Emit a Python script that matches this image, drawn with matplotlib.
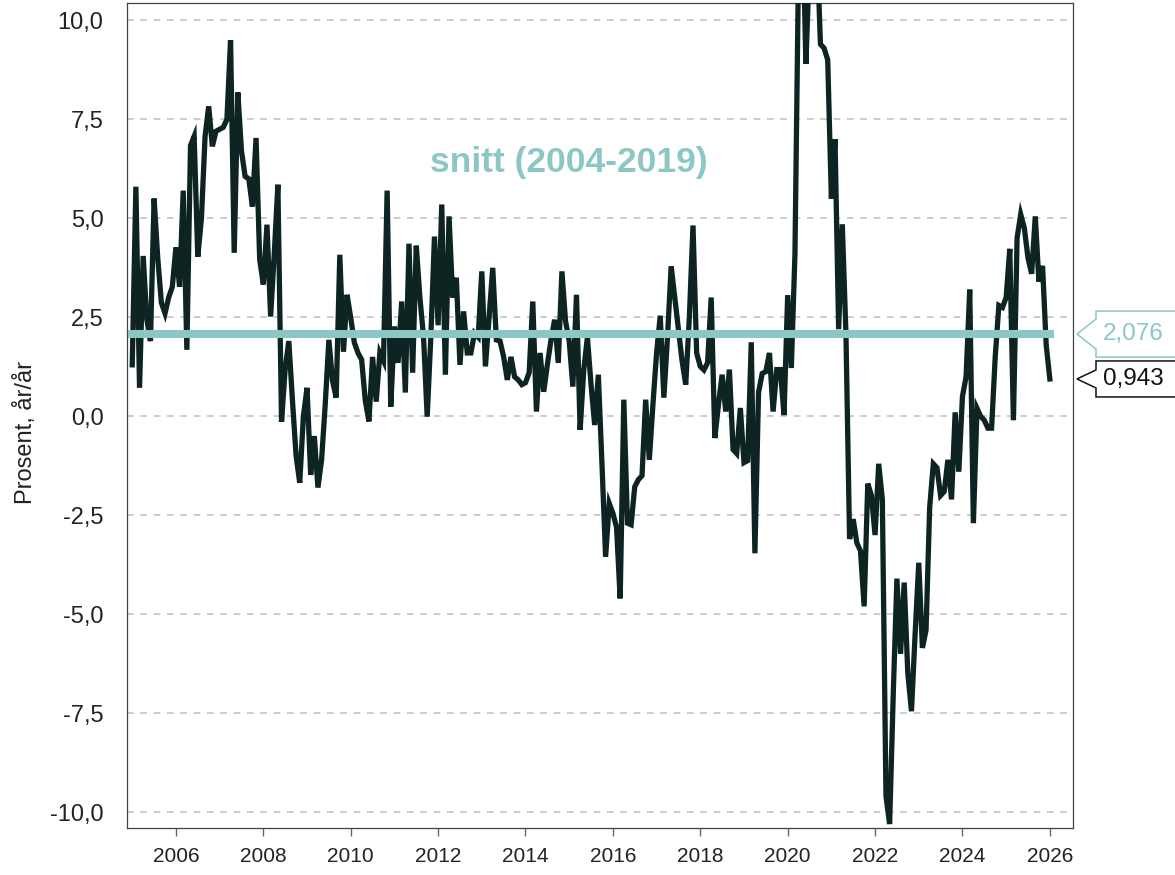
import numpy as np
import matplotlib.pyplot as plt
from matplotlib.patches import Polygon
from matplotlib.ticker import FuncFormatter

plt.rcParams['font.family'] = ['Liberation Sans', 'DejaVu Sans']

# monthly values, prosent år/år (Jan 2005 - Jan 2026)
y2005 = [1.3, 5.8, 0.72, 4.05, 2.45, 1.9, 5.5, 4.0, 2.87, 2.6, 3.0, 3.27]
y2006 = [4.27, 3.27, 5.7, 1.68, 6.84, 7.07, 4.03, 5.0, 7.07, 7.83, 6.82, 7.2]
y2007 = [7.25, 7.3, 7.5, 9.5, 4.13, 8.18, 6.7, 6.06, 6.0, 5.3, 7.03, 3.96]
y2008 = [3.33, 4.84, 2.52, 4.1, 5.85, -0.14, 1.2, 1.9, 0.4, -1.0, -1.68, 0.0]
y2009 = [0.72, -1.48, -0.5, -1.8, -1.1, 0.3, 1.93, 0.9, 0.47, 4.08, 1.63, 3.07]
y2010 = [2.49, 1.86, 1.6, 1.43, 0.4, -0.13, 1.5, 0.37, 1.6, 1.4, 5.7, 0.24]
y2011 = [2.27, 1.35, 2.9, 0.6, 4.36, 1.1, 4.31, 3.0, 2.0, -0.01, 2.0, 4.54]
y2012 = [2.3, 5.35, 1.05, 5.05, 3.0, 3.5, 1.3, 2.65, 1.6, 1.6, 2.1, 2.0]
y2013 = [3.66, 1.26, 2.5, 3.75, 1.93, 1.9, 1.5, 0.92, 1.5, 1.0, 0.92, 0.8]
y2014 = [0.85, 1.1, 2.9, 0.12, 1.6, 0.62, 1.3, 1.93, 2.44, 1.35, 3.66, 2.4]
y2015 = [1.9, 0.75, 3.07, -0.34, 1.17, 2.0, 0.8, -0.22, 1.05, -1.2, -3.55, -2.2]
y2016 = [-2.45, -2.8, -4.6, 0.42, -2.7, -2.74, -1.78, -1.6, -1.5, 0.42, -1.1, 0.3]
y2017 = [1.6, 2.54, 0.47, 2.0, 3.79, 3.0, 2.2, 1.4, 0.8, 2.5, 4.82, 1.6]
y2018 = [1.26, 1.17, 1.35, 3.0, -0.55, 0.3, 1.05, 0.12, 1.18, -0.84, -0.94, 0.21]
y2019 = [-1.17, -1.12, 1.87, -3.46, 0.6, 1.08, 1.13, 1.6, 0.12, 1.18, 1.18, 0.03]
y2020 = [3.06, 1.22, 4.1, 11.5, 13.0, 8.9, 11.5, 13.0, 12.0, 9.4, 9.3, 9.0]
y2021 = [5.5, 7.0, 2.2, 4.85, 2.1, -3.1, -2.6, -3.2, -3.4, -4.8, -1.7, -2.0]
y2022 = [-3.0, -1.2, -2.1, -9.6, -10.3, -7.0, -4.1, -6.0, -4.2, -6.5, -7.45, -5.5]
y2023 = [-3.7, -5.85, -5.4, -2.3, -1.2, -1.3, -2.0, -1.9, -1.1, -2.1, 0.1, -1.4]
y2024 = [0.5, 1.0, 3.2, -2.7, 0.2, 0.0, -0.1, -0.3, -0.3, 1.5, 2.8, 2.75]
y2025 = [3.0, 4.23, -0.1, 4.5, 5.1, 4.75, 4.0, 3.6, 5.05, 3.4, 3.8, 1.8]
y2026 = [0.943]

values = (y2005 + y2006 + y2007 + y2008 + y2009 + y2010 + y2011 + y2012 + y2013
          + y2014 + y2015 + y2016 + y2017 + y2018 + y2019 + y2020 + y2021
          + y2022 + y2023 + y2024 + y2025 + y2026)
years = 2005 + np.arange(len(values)) / 12

avg = 2.076
avg_label = "snitt (2004-2019)"
yticks = [-10, -7.5, -5, -2.5, 0, 2.5, 5, 7.5, 10]
xticks = list(range(2006, 2027, 2))

dark = '#0e2423'
teal = '#8cc7c6'

fig = plt.figure(figsize=(11.75, 8.75), dpi=100)
ax = fig.add_axes([127 / 1175, 47 / 875, 946 / 1175, 825 / 875])

ax.plot(years, values, color=dark, linewidth=3.8, solid_joinstyle='miter', zorder=3)
ax.plot([years[0], years[-1]], [avg, avg], color=teal, linewidth=5.8, zorder=4)

ax.text(2015.0, 6.42, avg_label, color=teal, fontsize=25.5, fontweight='bold',
        ha='center', va='center')

ax.set_xlim(2004.88, 2026.53)
ax.set_ylim(-10.4, 10.44)
ax.set_xticks(xticks)
ax.set_yticks(yticks)
ax.yaxis.set_major_formatter(FuncFormatter(lambda v, p: f"{v:.1f}".replace('.', ',')))
ax.yaxis.grid(True, linestyle=(0, (4, 4)), color='#c4c4c4', linewidth=1.2)
ax.set_axisbelow(True)
ax.tick_params(axis='x', direction='out', length=6, width=1, color='#666',
               labelsize=15, labelcolor='#222', pad=8)
ax.tick_params(axis='y', length=0, labelsize=17, labelcolor='#222', pad=17)
for s in ax.spines.values():
    s.set_color('#444')
    s.set_linewidth(0.9)
ax.set_ylabel("Prosent, år/år", fontsize=17, color='#222')
ax.yaxis.set_label_coords(-0.095, 0.48)


# value tags on the right side
def tag(value, text, col, half_h, notch):
    tx, ty = ax.transData.transform((ax.get_xlim()[1], value))
    tip = tx + 4
    left = tx + 23
    right = tx + 200
    pts = [(tip, ty), (left, ty + notch), (left, ty + half_h), (right, ty + half_h),
           (right, ty - half_h), (left, ty - half_h), (left, ty - notch)]
    fig.patches.append(Polygon(pts, closed=True, facecolor='white', edgecolor=col,
                               linewidth=1.1, transform=None, figure=fig))
    fig.text((left + 7) / fig.bbox.width, ty / fig.bbox.height, text, color=col,
             fontsize=17.5, ha='left', va='center')


tag(avg, f"{avg:.3f}".replace('.', ','), teal, 23, 15)
tag(values[-1], f"{values[-1]:.3f}".replace('.', ','), '#111', 18, 9)

fig.savefig('out.png', dpi=100)
